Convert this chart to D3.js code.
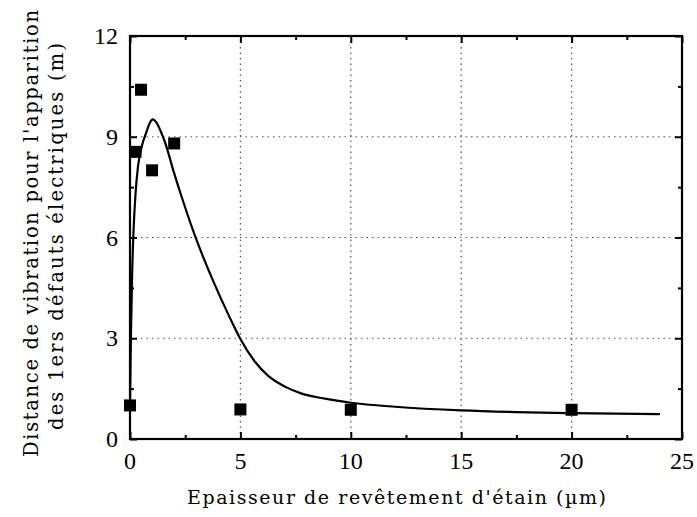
<!DOCTYPE html>
<html><head><meta charset="utf-8">
<script src="https://cdn.jsdelivr.net/npm/d3@7"></script>
<style>body{margin:0;background:#fff}</style>
</head><body>
<svg id="c" width="697" height="517"></svg>
<script>
const pointX = [0, 0.25, 0.5, 1, 2, 5, 10, 20];
const pointY = [1.0, 8.55, 10.4, 8.0, 8.8, 0.88, 0.87, 0.87];
const curveX = [0, 0.04, 0.1, 0.16, 0.25, 0.36, 0.53, 0.75, 0.9, 1.03, 1.2, 1.4, 1.58, 1.96, 2.42, 3.0, 3.77, 4.53, 4.98, 5.66, 6.26, 7.02, 7.78, 8.83, 10, 12, 15, 17.5, 20, 24];
const curveY = [0.9, 3.0, 5.0, 6.2, 7.3, 8.1, 8.7, 9.15, 9.42, 9.52, 9.42, 9.15, 8.85, 8.0, 7.05, 5.95, 4.7, 3.6, 3.0, 2.3, 1.88, 1.56, 1.35, 1.2, 1.08, 0.96, 0.85, 0.8, 0.77, 0.74];
const xTicks = [0, 5, 10, 15, 20, 25];
const yTicks = [0, 3, 6, 9, 12];
const xMinor = [2.5, 7.5, 12.5, 17.5, 22.5];
const yMinor = [1.5, 4.5, 7.5, 10.5];
const xTitle = "Epaisseur de revêtement d'étain (µm)";
const yTitle1 = "Distance de vibration pour l'apparition";
const yTitle2 = "des 1ers défauts électriques (m)";

const L = 130, R = 682, T = 36, B = 439;
const svg = d3.select("#c");
const x = d3.scaleLinear().domain([0, 25]).range([L, R]);
const y = d3.scaleLinear().domain([0, 12]).range([B, T]);
const serif = "'Liberation Serif', 'Times New Roman', serif";
const wide = "'DejaVu Serif', serif";

// grid
const g = svg.append("g").attr("stroke", "#555").attr("stroke-width", 1.2).attr("stroke-dasharray", "1.5,4");
g.selectAll(".gx").data(xTicks.slice(1, -1)).enter().append("line")
  .attr("x1", d => x(d)).attr("x2", d => x(d)).attr("y1", T).attr("y2", B);
g.selectAll(".gy").data(yTicks.slice(1, -1)).enter().append("line")
  .attr("y1", d => y(d)).attr("y2", d => y(d)).attr("x1", L).attr("x2", R);

// axes with inward ticks
function ax(gen, tr, vals, size) {
  const a = svg.append("g").attr("transform", tr)
    .call(gen.tickValues(vals).tickSize(size).tickFormat(""));
  a.select(".domain").remove();
  a.selectAll("line").attr("stroke", "#000").attr("stroke-width", 2);
}
ax(d3.axisTop(x), `translate(0,${B})`, xTicks, 7);
ax(d3.axisTop(x), `translate(0,${B})`, xMinor, 4);
ax(d3.axisBottom(x), `translate(0,${T})`, xTicks, 7);
ax(d3.axisBottom(x), `translate(0,${T})`, xMinor, 4);
ax(d3.axisRight(y), `translate(${L},0)`, yTicks, 7);
ax(d3.axisRight(y), `translate(${L},0)`, yMinor, 4);
ax(d3.axisLeft(y), `translate(${R},0)`, yTicks, 7);
ax(d3.axisLeft(y), `translate(${R},0)`, yMinor, 4);

svg.append("rect").attr("x", L).attr("y", T).attr("width", R - L).attr("height", B - T)
  .attr("fill", "none").attr("stroke", "#000").attr("stroke-width", 2.2);

// tick labels
svg.selectAll(".xl").data(xTicks).enter().append("text")
  .attr("x", d => x(d)).attr("y", 469).attr("text-anchor", "middle")
  .attr("font-family", serif).attr("font-size", 24).text(d => d);
svg.selectAll(".yl").data(yTicks).enter().append("text")
  .attr("x", 118).attr("y", d => y(d) + 8).attr("text-anchor", "end")
  .attr("font-family", serif).attr("font-size", 24).text(d => d);

// titles
svg.append("text").attr("x", 187).attr("y", 504)
  .attr("textLength", 419).attr("lengthAdjust", "spacing")
  .attr("font-family", wide).attr("font-size", 19).text(xTitle);
svg.append("text").attr("transform", "translate(38,457) rotate(-90)")
  .attr("textLength", 447).attr("lengthAdjust", "spacing")
  .attr("font-family", wide).attr("font-size", 19.5).text(yTitle1);
svg.append("text").attr("transform", "translate(63,430) rotate(-90)")
  .attr("textLength", 387).attr("lengthAdjust", "spacing")
  .attr("font-family", wide).attr("font-size", 19.5).text(yTitle2);

// curve
const pts = curveX.map((v, i) => [v, curveY[i]]);
svg.append("path").datum(pts)
  .attr("d", d3.line().x(d => x(d[0])).y(d => y(d[1])).curve(d3.curveMonotoneX))
  .attr("fill", "none").attr("stroke", "#000").attr("stroke-width", 2.2);

// points
const s = 12;
svg.selectAll(".p").data(pointX.map((v, i) => [v, pointY[i]])).enter().append("rect")
  .attr("x", d => x(d[0]) - s / 2).attr("y", d => y(d[1]) - s / 2)
  .attr("width", s).attr("height", s).attr("fill", "#000");
</script>
</body></html>
